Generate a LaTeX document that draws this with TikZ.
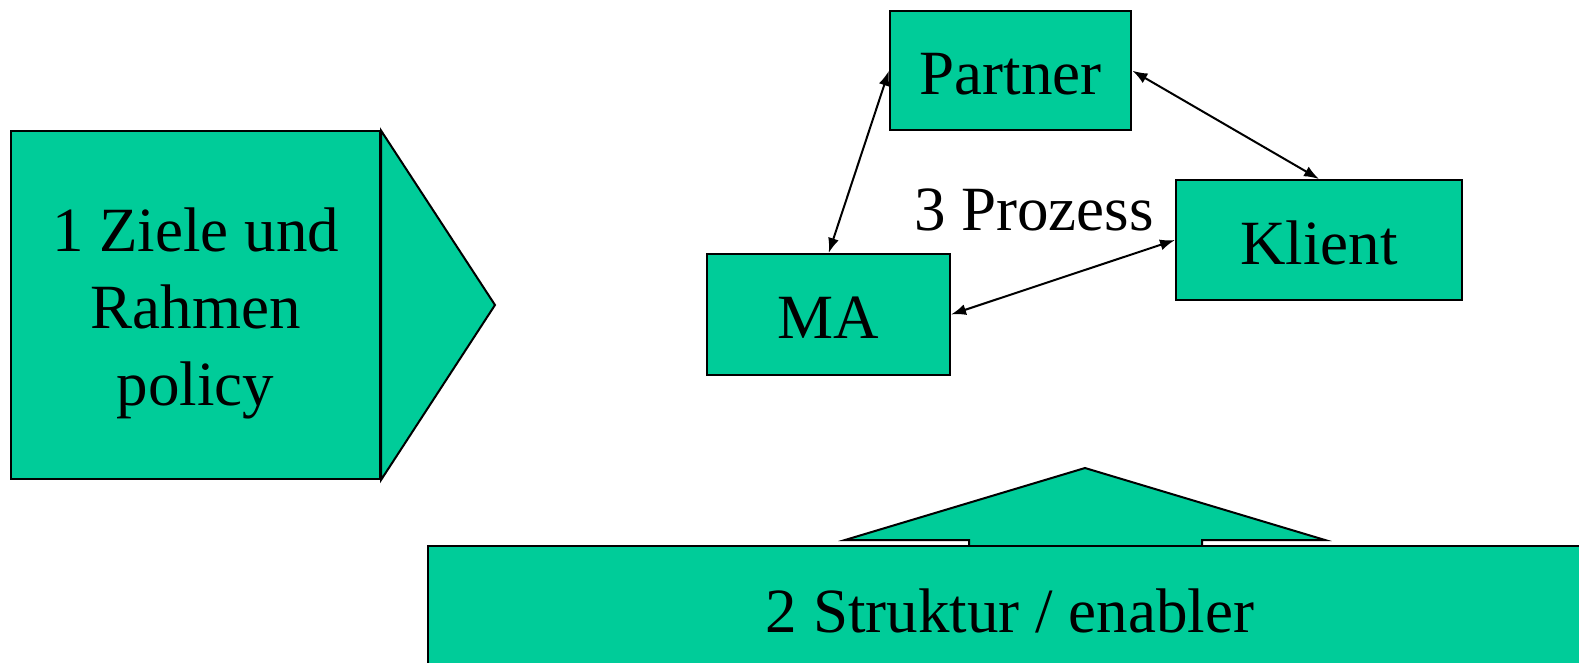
\documentclass[tikz,border=0pt]{standalone}
\usepackage{fontspec}
\setmainfont{Liberation Serif}
\usetikzlibrary{arrows.meta}
\definecolor{boxgreen}{RGB}{0,204,153}
\begin{document}
\begin{tikzpicture}[x=1pt,y=-1pt,
  gbox/.style={draw=black, fill=boxgreen, line width=2pt, inner sep=0pt, rectangle},
  txt/.style={font=\fontsize{63}{77}\selectfont, inner sep=0pt, align=center},
  link/.style={line width=2pt, {Latex[length=15pt,width=11pt]}-{Latex[length=15pt,width=11pt]}},
  gshape/.style={draw=black, fill=boxgreen, line width=2pt, line join=miter}]
\useasboundingbox (0,0) rectangle (1579,663);
\begin{scope}
\clip (0,0) rectangle (1579,663);
% left pentagon arrow
\node[gbox, minimum width=369pt, minimum height=347.5pt,
  label={[txt, yshift=-8pt]center:1 Ziele und\\Rahmen\\policy}] (ziele) at (195.5,305.25) {};
\draw[gshape] (ziele.north east) -- (495,305) -- (ziele.south east) -- cycle;
% up arrow behind structure box
\draw[gshape]
  (969,700) -- (969,540) -- (845,540) -- (1085,468) -- (1325,540) -- (1202,540) -- (1202,700) -- cycle;
\node[gbox, minimum width=1164pt, minimum height=126pt,
  label={[txt, yshift=-2pt]center:2 Struktur / enabler}] (struktur) at (1010,609) {};
% process nodes
\node[gbox, minimum width=241.5pt, minimum height=119.5pt,
  label={[txt, yshift=-3pt]center:Partner}] (partner) at (1010.7,70.7) {};
\node[gbox, minimum width=242.7pt, minimum height=121pt,
  label={[txt, yshift=-3pt]center:MA}] (ma) at (828.7,314.5) {};
\node[gbox, minimum width=286pt, minimum height=120pt,
  label={[txt, yshift=-3pt]center:Klient}] (klient) at (1319,240) {};
\node[txt] (prozess) at (1034,210) {3 Prozess};
\draw[link] (ma.north) -- (partner.west);
\draw[link] (partner.east) -- (klient.north);
\draw[link] (ma.east) -- (klient.west);
\end{scope}
\end{tikzpicture}
\end{document}
